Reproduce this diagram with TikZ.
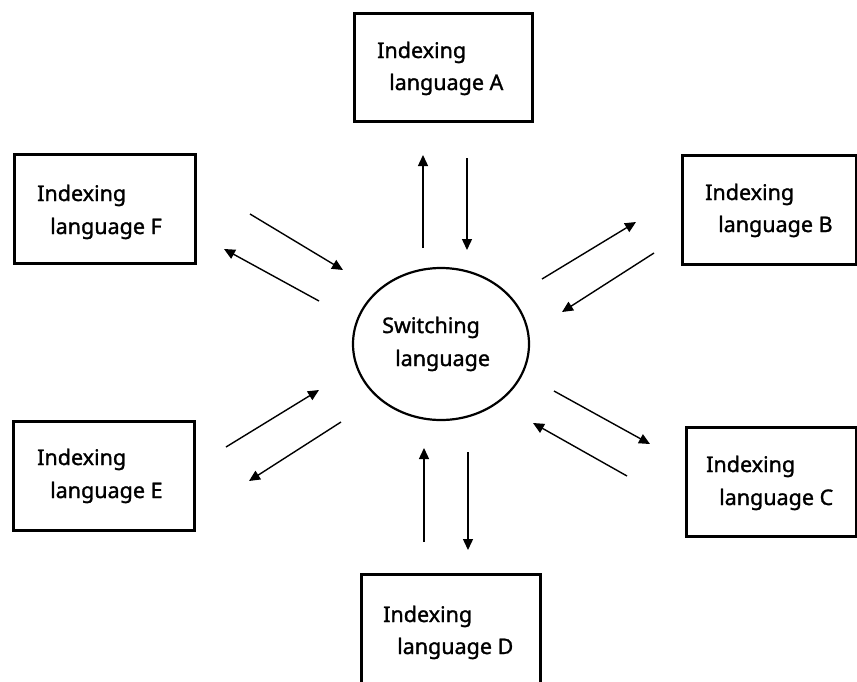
\documentclass[tikz,border=0pt]{standalone}
\usepackage{fontspec}
\setmainfont[FakeBold=1.3]{Noto Sans}
\usetikzlibrary{arrows.meta,shapes.geometric}
\begin{document}
\begin{tikzpicture}[x=1pt,y=-1pt,
  box/.style={draw,line width=3pt,inner sep=0pt},
  lbl/.style={anchor=base west,inner sep=0pt,font=\fontsize{21.5}{25}\selectfont\bfseries},
  link/.style={line width=1.4pt,-{Triangle[length=11pt,width=10pt]}}]
\useasboundingbox (0,0) rectangle (857,681);
\fill[white] (0,0) rectangle (857,681);
\clip (0,0) rectangle (857,681);
% boxes
\draw[box] (354,13) rectangle (532,121);
\node[box,draw=none] (A) at (443,67) {};
\draw[box] (682,155) rectangle (856,264);
\node[box,draw=none] (B) at (769,209) {};
\draw[box] (686,427) rectangle (856,536);
\node[box,draw=none] (C) at (771,481) {};
\draw[box] (361,574) rectangle (540,700);
\node[box,draw=none] (D) at (450,630) {};
\draw[box] (13,421) rectangle (194,530);
\node[box,draw=none] (E) at (103,475) {};
\draw[box] (14,154) rectangle (195,263);
\node[box,draw=none] (F) at (104,208) {};
% labels
\node[lbl] (a1) at (377,58) {Indexing};
\node[lbl] (a2) at (389,90) {language A};
\node[lbl] (b1) at (705,200) {Indexing};
\node[lbl] (b2) at (718,232) {language B};
\node[lbl] (c1) at (706,472) {Indexing};
\node[lbl] (c2) at (719,505) {language C};
\node[lbl] (d1) at (383,622) {Indexing};
\node[lbl] (d2) at (397,654) {language D};
\node[lbl] (e1) at (37,465) {Indexing};
\node[lbl] (e2) at (50,498) {language E};
\node[lbl] (f1) at (37,201) {Indexing};
\node[lbl] (f2) at (50,234) {language F};
% centre
\node[draw,ellipse,line width=2.2pt,minimum width=176pt,minimum height=152pt,inner sep=0pt] (S) at (441,344) {};
\node[lbl] (s1) at (382,333) {Switching};
\node[lbl] (s2) at (395,366) {language};
% arrow end points
\coordinate (au0) at (423,248); \coordinate (au1) at (423,155);
\coordinate (ad0) at (467,158); \coordinate (ad1) at (467,250);
\coordinate (bu0) at (542,279); \coordinate (bu1) at (636,222);
\coordinate (bd0) at (654,253); \coordinate (bd1) at (562,312);
\coordinate (cd0) at (554,391); \coordinate (cd1) at (650,444);
\coordinate (cu0) at (627,476); \coordinate (cu1) at (533,423);
\coordinate (du0) at (424,542); \coordinate (du1) at (424,448);
\coordinate (dd0) at (468,452); \coordinate (dd1) at (468,550);
\coordinate (eu0) at (226,447); \coordinate (eu1) at (319,390);
\coordinate (ed0) at (341,422); \coordinate (ed1) at (249,481);
\coordinate (fd0) at (250,214); \coordinate (fd1) at (343,270);
\coordinate (fu0) at (319,301); \coordinate (fu1) at (224,249);
\draw[link] (au0) -- (au1);
\draw[link] (ad0) -- (ad1);
\draw[link] (bu0) -- (bu1);
\draw[link] (bd0) -- (bd1);
\draw[link] (cd0) -- (cd1);
\draw[link] (cu0) -- (cu1);
\draw[link] (du0) -- (du1);
\draw[link] (dd0) -- (dd1);
\draw[link] (eu0) -- (eu1);
\draw[link] (ed0) -- (ed1);
\draw[link] (fd0) -- (fd1);
\draw[link] (fu0) -- (fu1);
\end{tikzpicture}
\end{document}
